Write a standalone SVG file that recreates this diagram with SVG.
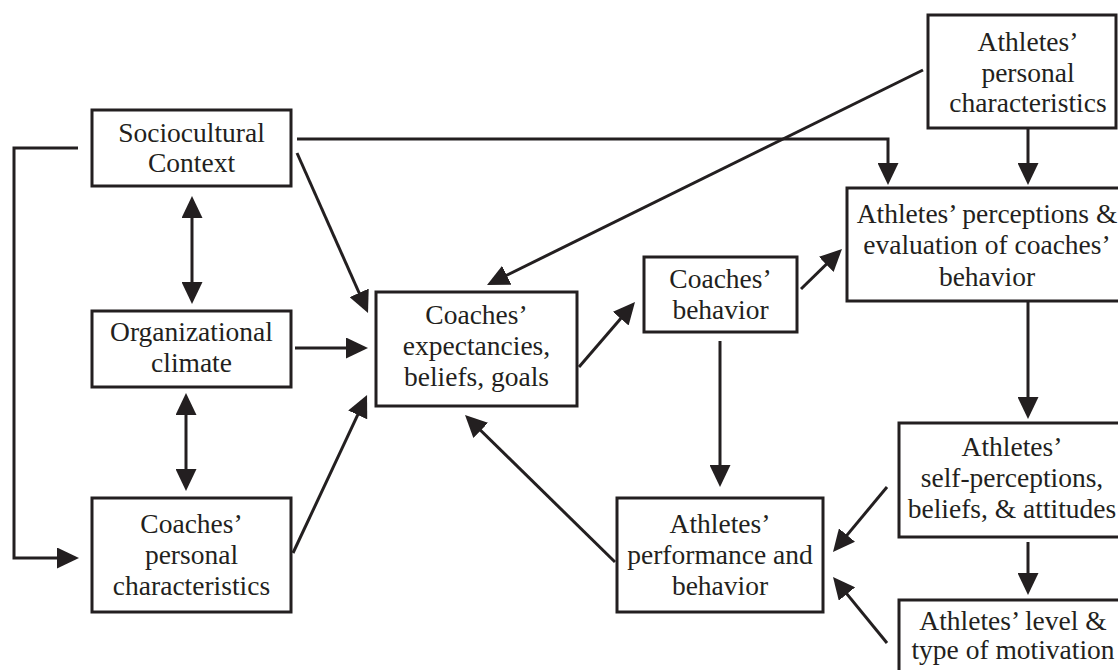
<svg xmlns="http://www.w3.org/2000/svg" width="1118" height="670" viewBox="0 0 1118 670">
<style>
.box{fill:#fff;stroke:#231f20;stroke-width:3}
.t{font-family:"Liberation Serif","Times New Roman",serif;font-size:27.5px;fill:#231f20;text-anchor:middle}
.c{fill:none;stroke:#231f20;stroke-width:3}
</style>
<defs>
<marker id="ah" markerUnits="userSpaceOnUse" markerWidth="22" markerHeight="21" refX="16" refY="10.5" orient="auto-start-reverse" viewBox="0 0 22 21">
<path d="M0,0 L22,10.5 L0,21 z" fill="#231f20"/>
</marker>
</defs>
<rect width="1118" height="670" fill="#fff"/>
<g id="connectors">
<polyline class="c" points="78,148 14,148 14,558 73,558" marker-end="url(#ah)"/>
<polyline class="c" points="297,139 888,139 888,179" marker-end="url(#ah)"/>
<line class="c" x1="1028" y1="128" x2="1028" y2="179" marker-end="url(#ah)"/>
<line class="c" x1="923" y1="70" x2="492.4" y2="282.3" marker-end="url(#ah)"/>
<line class="c" x1="297" y1="153" x2="365.6" y2="307.5" marker-end="url(#ah)"/>
<line class="c" x1="295" y1="348" x2="362" y2="348" marker-end="url(#ah)"/>
<line class="c" x1="293" y1="553" x2="364.5" y2="400.4" marker-end="url(#ah)"/>
<line class="c" x1="192" y1="202" x2="192" y2="298" marker-start="url(#ah)" marker-end="url(#ah)"/>
<line class="c" x1="186" y1="399" x2="186" y2="485" marker-start="url(#ah)" marker-end="url(#ah)"/>
<line class="c" x1="579" y1="367" x2="631.1" y2="306.5" marker-end="url(#ah)"/>
<line class="c" x1="801" y1="289" x2="837.7" y2="253.2" marker-end="url(#ah)"/>
<line class="c" x1="720" y1="341" x2="720" y2="481" marker-end="url(#ah)"/>
<line class="c" x1="615" y1="562" x2="469.3" y2="419.2" marker-end="url(#ah)"/>
<line class="c" x1="1028" y1="301" x2="1028" y2="413" marker-end="url(#ah)"/>
<line class="c" x1="1028" y1="542" x2="1028" y2="589" marker-end="url(#ah)"/>
<line class="c" x1="887" y1="487" x2="836.8" y2="547.4" marker-end="url(#ah)"/>
<line class="c" x1="887" y1="643" x2="836.8" y2="581.6" marker-end="url(#ah)"/>
</g>
<g id="sociocultural">
<rect class="box" x="92" y="110" width="199" height="76"/>
<text class="t" x="191.5" y="142">Sociocultural</text>
<text class="t" x="191.5" y="172">Context</text>
</g>
<g id="organizational">
<rect class="box" x="92" y="311" width="199" height="76"/>
<text class="t" x="191.5" y="341">Organizational</text>
<text class="t" x="191.5" y="372">climate</text>
</g>
<g id="coaches-personal">
<rect class="box" x="92" y="498" width="199" height="114"/>
<text class="t" x="191.5" y="533">Coaches’</text>
<text class="t" x="191.5" y="564">personal</text>
<text class="t" x="191.5" y="595">characteristics</text>
</g>
<g id="coaches-expectancies">
<rect class="box" x="376" y="292" width="201" height="114"/>
<text class="t" x="476.5" y="324">Coaches’</text>
<text class="t" x="476.5" y="355">expectancies,</text>
<text class="t" x="476.5" y="386">beliefs, goals</text>
</g>
<g id="coaches-behavior">
<rect class="box" x="644" y="257" width="153" height="75"/>
<text class="t" x="720.5" y="288">Coaches’</text>
<text class="t" x="720.5" y="319">behavior</text>
</g>
<g id="athletes-performance">
<rect class="box" x="617" y="498" width="206" height="114"/>
<text class="t" x="720" y="533">Athletes’</text>
<text class="t" x="720" y="564">performance and</text>
<text class="t" x="720" y="595">behavior</text>
</g>
<g id="athletes-personal">
<rect class="box" x="928" y="15" width="188" height="113"/>
<text class="t" x="1028" y="51">Athletes’</text>
<text class="t" x="1028" y="82">personal</text>
<text class="t" x="1028" y="112">characteristics</text>
</g>
<g id="athletes-perceptions">
<rect class="box" x="847" y="188" width="280" height="113"/>
<text class="t" x="987" y="223">Athletes’ perceptions &amp;</text>
<text class="t" x="987" y="254">evaluation of coaches’</text>
<text class="t" x="987" y="286">behavior</text>
</g>
<g id="athletes-self-perceptions">
<rect class="box" x="899" y="423" width="226" height="114"/>
<text class="t" x="1012" y="456">Athletes’</text>
<text class="t" x="1012" y="487">self-perceptions,</text>
<text class="t" x="1012" y="518">beliefs, &amp; attitudes</text>
</g>
<g id="athletes-motivation">
<rect class="box" x="899" y="600" width="226" height="90"/>
<text class="t" x="1013" y="630">Athletes’ level &amp;</text>
<text class="t" x="1013" y="659">type of motivation</text>
</g>
</svg>
